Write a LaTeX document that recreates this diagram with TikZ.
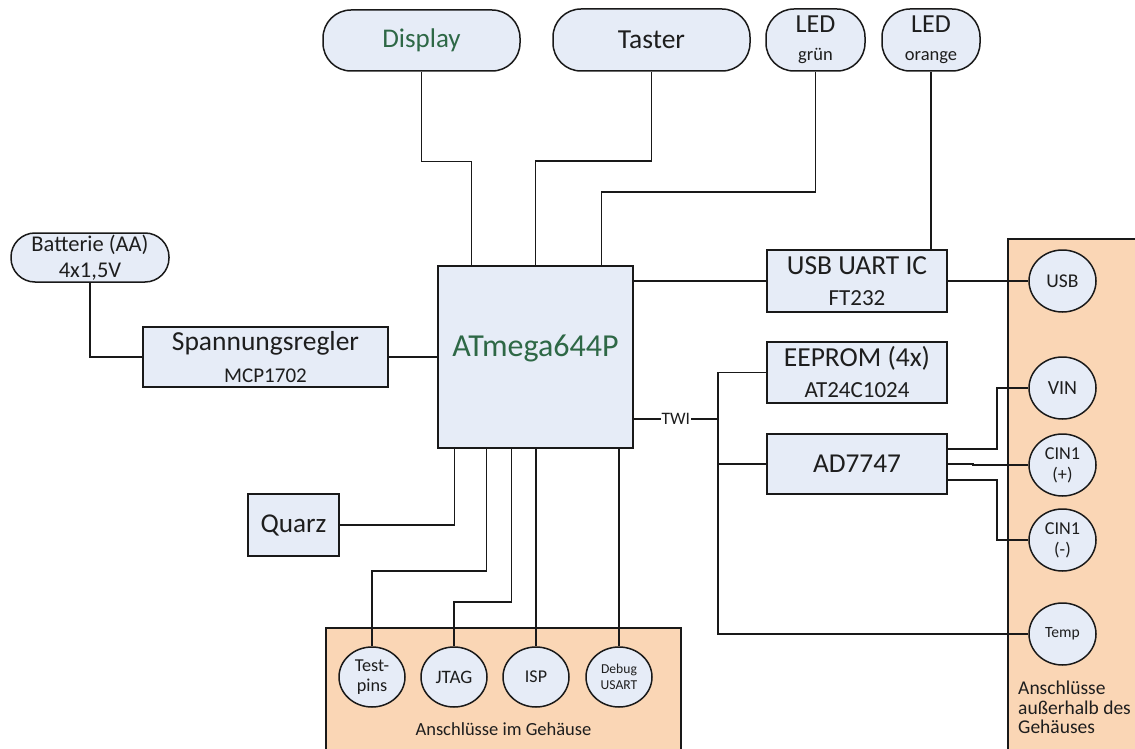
\documentclass[tikz,border=0pt]{standalone}
\usepackage{fontspec}
\setmainfont{Carlito}
\usetikzlibrary{shapes.geometric,calc}
\definecolor{boxfill}{RGB}{230,236,247}
\definecolor{panelfill}{RGB}{250,214,181}
\definecolor{linec}{RGB}{25,25,25}
\definecolor{txt}{RGB}{30,30,30}
\definecolor{grn}{RGB}{46,104,70}
\tikzset{
  conn/.style={draw=linec, line width=1.5pt},
  blk/.style={draw=linec, fill=boxfill, line width=1.5pt, rectangle, inner sep=0pt, text=txt, align=center},
  pill/.style={blk, rounded corners=28pt},
  port/.style={draw=linec, fill=boxfill, line width=1.5pt, ellipse, inner sep=0pt, minimum width=67pt, minimum height=62pt, text=txt, align=center},
  bport/.style={port, minimum width=66pt, minimum height=60pt},
  panel/.style={draw=linec, fill=panelfill, line width=1.5pt},
  twil/.style={fill=white, inner sep=1pt, text=txt, font=\fontsize{17.5}{18}\selectfont}
}
\begin{document}
\begin{tikzpicture}[x=1pt,y=-1pt]
\path[use as bounding box] (0,0) rectangle (1135,749);
\clip (0,0) rectangle (1135,749);
\fill[white] (0,0) rectangle (1135,749);

% panels
\draw[panel] (326,628) rectangle (681,760);
\draw[panel] (1008,239) rectangle (1145,760);
\node[text=txt, font=\fontsize{18.5}{20}\selectfont, anchor=base] (lblin) at (503.5,735) {Anschlüsse im Gehäuse};
\node[text=txt, font=\fontsize{19.5}{19.5}\selectfont, anchor=north west, align=left, inner sep=0pt] (lblout) at (1018,681) {Anschlüsse\\außerhalb des\\Gehäuses};

% top row
\node[pill, minimum width=197pt, minimum height=61pt, text=grn, font=\fontsize{27}{30}\selectfont] (disp) at (421.5,40.5) {Display};
\node[pill, minimum width=197pt, minimum height=62pt, font=\fontsize{27.5}{30}\selectfont] (tast) at (651.5,40) {Taster};
\node[pill, minimum width=99pt, minimum height=62pt, font=\fontsize{26}{28}\selectfont] (ledg) at (815.5,40) {LED\\{\fontsize{18.5}{20}\selectfont grün}};
\node[pill, minimum width=98pt, minimum height=62pt, font=\fontsize{26}{28}\selectfont] (ledo) at (931,40) {LED\\{\fontsize{18.5}{20}\selectfont orange}};

% left side
\node[pill, minimum width=158pt, minimum height=49pt, rounded corners=24pt, font=\fontsize{22.5}{26}\selectfont] (batt) at (90,257.5) {Batterie (AA)\\4x1,5V};
\node[blk, minimum width=245pt, minimum height=60pt, font=\fontsize{27.5}{32}\selectfont] (span) at (265.5,357) {Spannungsregler\\{\fontsize{21}{22}\selectfont MCP1702}};
\node[blk, minimum width=91pt, minimum height=62pt, font=\fontsize{27.2}{30}\selectfont] (quarz) at (293.5,525) {Quarz};

% MCU
\node[blk, minimum width=195pt, minimum height=182pt, text=grn, font=\fontsize{32}{34}\selectfont, text height=20.6pt, text depth=22.6pt] (atm) at (535.5,357) {ATmega644P};

% right blocks
\node[blk, minimum width=180pt, minimum height=62pt, font=\fontsize{27.5}{31}\selectfont] (usbic) at (857,281) {USB UART IC\\{\fontsize{23}{24}\selectfont FT232}};
\node[blk, minimum width=180pt, minimum height=61pt, font=\fontsize{27.5}{31}\selectfont] (eeprom) at (857,372.5) {EEPROM (4x)\\{\fontsize{23}{24}\selectfont AT24C1024}};
\node[blk, minimum width=180pt, minimum height=60pt, font=\fontsize{27.3}{30}\selectfont] (ad) at (857,464) {AD7747};

% external ports
\node[port, font=\fontsize{19.5}{20}\selectfont] (pusb) at (1062.5,281) {USB};
\node[port, font=\fontsize{20}{20}\selectfont] (pvin) at (1062.5,388) {VIN};
\node[port, font=\fontsize{18.2}{21}\selectfont] (pcinp) at (1062.5,465) {CIN1\\(+)};
\node[port, font=\fontsize{18.2}{21}\selectfont] (pcinm) at (1062.5,540) {CIN1\\(-)};
\node[port, font=\fontsize{15.6}{16}\selectfont] (ptemp) at (1062.5,634) {Temp};

% internal ports
\node[bport, font=\fontsize{18.2}{20}\selectfont] (ptest) at (372,677) {Test-\\pins};
\node[bport, font=\fontsize{19}{20}\selectfont] (pjtag) at (454,677) {JTAG};
\node[bport, font=\fontsize{18}{20}\selectfont] (pisp) at (536,677) {ISP};
\node[bport, font=\fontsize{13.6}{16}\selectfont] (pdbg) at (619,677) {Debug\\USART};

% connectors top
\draw[conn] (disp.south) -- ++(0,89.5) -| ($(atm.north west)+(34,0)$);
\draw[conn] (tast.south) -- ++(0,89) -| (atm.north);
\draw[conn] (ledg.south) -- ++(0,120) -| ($(atm.north west)+(164,0)$);
\draw[conn] (ledo.south) -- (ledo.south |- usbic.north);
\draw[conn] (usbic.west -| atm.east) -- (usbic.west);
\draw[conn] (usbic.east) -- (pusb.west);

% power
\draw[conn] (batt.south) |- (span.west);
\draw[conn] (span.east) -- (atm.west);

% TWI bus
\coordinate (twi) at (718,419);
\draw[conn] (twi -| atm.east) -- node[twil] (twilbl) {TWI} (twi);
\draw[conn] (eeprom.west) -| (twi |- ptemp.west) -- (ptemp.west);
\draw[conn] (twi |- ad.west) -- (ad.west);

% AD7747 outputs
\draw[conn] ($(ad.east)+(0,-15)$) -- ++(49,0) |- (pvin.west);
\draw[conn] (ad.east) -- ++(25,0) |- (pcinp.west);
\draw[conn] ($(ad.east)+(0,16)$) -- ++(49,0) |- (pcinm.west);

% bottom
\draw[conn] (quarz.east) -| ($(atm.south west)+(17,0)$);
\draw[conn] ($(atm.south west)+(49,0)$) -- ++(0,122) -| (ptest.north);
\draw[conn] ($(atm.south west)+(74,0)$) -- ++(0,153) -| (pjtag.north);
\draw[conn] (pisp.north |- atm.south) -- (pisp.north);
\draw[conn] (pdbg.north |- atm.south) -- (pdbg.north);
\end{tikzpicture}
\end{document}
